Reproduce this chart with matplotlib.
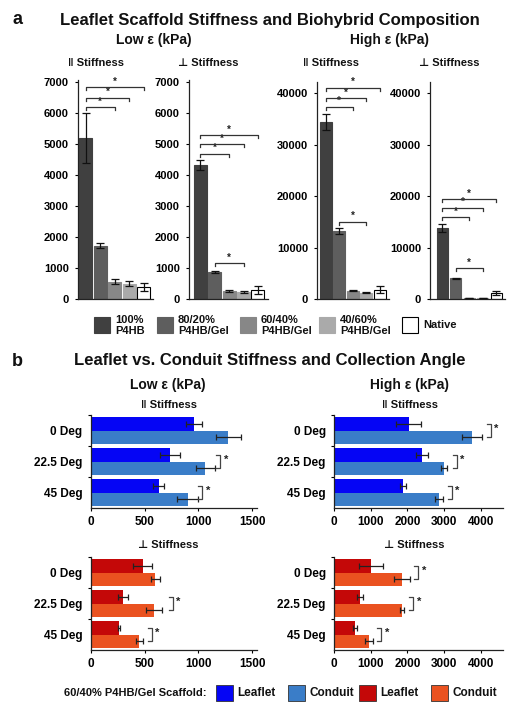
import matplotlib
matplotlib.use("Agg")
import matplotlib.pyplot as plt
from matplotlib.patches import Rectangle

plt.rcParams['font.family'] = ['Liberation Sans', 'DejaVu Sans']
plt.rcParams['font.weight'] = 'bold'

# ---------------- data ----------------
comp_labels = ["100%\nP4HB", "80/20%\nP4HB/Gel", "60/40%\nP4HB/Gel", "40/60%\nP4HB/Gel", "Native"]
comp_colors = ["#404040", "#5e5e5e", "#878787", "#aaaaaa", "#ffffff"]

low_par = [5200, 1720, 560, 490, 380]
low_par_err = [800, 80, 80, 80, 130]
low_perp = [4320, 870, 265, 215, 290]
low_perp_err = [160, 30, 30, 30, 120]
high_par = [34400, 13200, 1610, 1220, 1800]
high_par_err = [1500, 550, 150, 150, 700]
high_perp = [13850, 4050, 200, 200, 1150]
high_perp_err = [800, 100, 50, 50, 450]

# significance brackets: (bar_from, bar_to, height)
low_par_sig = [(0, 2, 6200), (0, 3, 6500), (0, 4, 6850)]
low_perp_sig = [(0, 2, 4700), (0, 3, 5000), (0, 4, 5300), (1, 3, 1160)]
high_par_sig = [(0, 2, 37300), (0, 3, 39000), (0, 4, 41000), (1, 3, 15000)]
high_perp_sig = [(0, 2, 15900), (0, 3, 17700), (0, 4, 19400), (1, 3, 6000)]

angles = ["0 Deg", "22.5 Deg", "45 Deg"]
b_low_par_leaf = [957, 739, 630]
b_low_par_leaf_err = [75, 93, 50]
b_low_par_cond = [1277, 1065, 900]
b_low_par_cond_err = [115, 90, 100]
b_high_par_leaf = [2030, 2390, 1870]
b_high_par_leaf_err = [330, 160, 80]
b_high_par_cond = [3750, 2990, 2860]
b_high_par_cond_err = [270, 80, 115]
b_low_perp_leaf = [483, 297, 263]
b_low_perp_leaf_err = [90, 45, 10]
b_low_perp_cond = [600, 588, 452]
b_low_perp_cond_err = [40, 78, 30]
b_high_perp_leaf = [1010, 710, 570]
b_high_perp_leaf_err = [320, 90, 45]
b_high_perp_cond = [1850, 1840, 950]
b_high_perp_cond_err = [220, 55, 105]

# significance brackets in b: (group index, x position)
b_low_par_sig = [(1, 1205), (2, 1035)]
b_high_par_sig = [(0, 4263), (1, 3338), (2, 3202)]
b_low_perp_sig = [(1, 762), (2, 567)]
b_high_perp_sig = [(0, 2295), (1, 2159), (2, 1279)]

a_ticks_low = [0, 1000, 2000, 3000, 4000, 5000, 6000, 7000]
a_ticks_high = [0, 10000, 20000, 30000, 40000]
b_ticks_low = [0, 500, 1000, 1500]
b_ticks_high = [0, 1000, 2000, 3000, 4000]

c_leaf_par = "#0505f5"
c_cond_par = "#3a7dc8"
c_leaf_perp = "#c40808"
c_cond_perp = "#ea5220"

# ---------------- layout ----------------
W, H = 512, 711
fig = plt.figure(figsize=(W / 100, H / 100), dpi=100)


def rect(x0, y0, x1, y1):
    return [x0 / W, 1 - y1 / H, (x1 - x0) / W, (y1 - y0) / H]


ov = fig.add_axes([0, 0, 1, 1])
ov.set_xlim(0, W)
ov.set_ylim(H, 0)
ov.axis('off')


def style_axes(ax):
    for s in ['top', 'right']:
        ax.spines[s].set_visible(False)
    for s in ['left', 'bottom']:
        ax.spines[s].set_linewidth(0.9)
        ax.spines[s].set_color('#222222')


def panel_a(r, vals, errs, sig, ylim, ticks, xlim, width):
    ax = fig.add_axes(rect(*r))
    style_axes(ax)
    x = list(range(len(vals)))
    ax.bar(x, vals, width=width, color=comp_colors, edgecolor=[c if c != "#ffffff" else "#000000" for c in comp_colors],
           linewidth=0.8, zorder=2)
    ax.errorbar(x, vals, yerr=errs, fmt='none', ecolor='#111111', elinewidth=0.9, capsize=3, capthick=0.9, zorder=3)
    ax.set_xlim(*xlim)
    ax.set_ylim(0, ylim)
    ax.set_xticks([])
    ax.set_yticks(ticks)
    ax.tick_params(axis='y', direction='out', length=2.5, width=0.8, pad=4, labelsize=8)
    for lab in ax.get_yticklabels():
        lab.set_fontweight('bold')
    tick = ylim * 3.0 / (r[3] - r[1])
    for a, b, h in sig:
        ax.plot([a, a, b, b], [h - tick, h, h, h - tick], color='#333333', lw=0.9, clip_on=False, zorder=4)
        ax.text((a + b) / 2, h + tick * 0.2, "*", ha='center', va='bottom', fontsize=7, color='#222222')
    return ax


panel_a((78, 80, 153, 299), low_par, low_par_err, low_par_sig, 7080, a_ticks_low, (-0.52, 4.63), 0.9)
panel_a((189, 80, 268, 299), low_perp, low_perp_err, low_perp_sig, 7080, a_ticks_low, (-0.8, 4.7), 0.9)
panel_a((317, 82, 389, 299), high_par, high_par_err, high_par_sig, 42140, a_ticks_high, (-0.63, 4.66), 0.88)
panel_a((430, 82, 505, 299), high_perp, high_perp_err, high_perp_sig, 42140, a_ticks_high, (-0.93, 4.67), 0.82)


def panel_b(r, leaf, leaf_err, cond, cond_err, sig, xmax, ticks, cl, cc):
    ax = fig.add_axes(rect(*r))
    style_axes(ax)
    pos = list(range(len(angles)))
    off = 0.21
    hgt = 0.42
    lp = [p - off for p in pos]
    cp = [p + off for p in pos]
    ax.barh(lp, leaf, height=hgt, color=cl, zorder=2)
    ax.barh(cp, cond, height=hgt, color=cc, zorder=2)
    ax.errorbar(leaf, lp, xerr=leaf_err, fmt='none', ecolor='#222222', elinewidth=0.9, capsize=2, capthick=0.9, zorder=3)
    ax.errorbar(cond, cp, xerr=cond_err, fmt='none', ecolor='#222222', elinewidth=0.9, capsize=2, capthick=0.9, zorder=3)
    ax.set_xlim(0, xmax)
    ax.set_ylim(2.5, -0.5)
    ax.set_yticks(pos)
    ax.set_yticklabels(angles)
    ax.set_yticks([-0.5, 0.5, 1.5], minor=True)
    ax.tick_params(axis='y', which='major', length=0, pad=6, labelsize=8.5)
    ax.tick_params(axis='y', which='minor', length=2.5, width=0.8, direction='out')
    ax.set_xticks(ticks)
    ax.tick_params(axis='x', direction='out', length=2.5, width=0.8, pad=3.5, labelsize=8.5)
    for lab in ax.get_yticklabels() + ax.get_xticklabels():
        lab.set_fontweight('bold')
    t = xmax * 4.0 / (r[2] - r[0])
    for g, bx in sig:
        ax.plot([bx - t, bx, bx, bx - t], [g - off, g - off, g + off, g + off], color='#444444', lw=0.9,
                clip_on=False, zorder=4)
        ax.text(bx + t * 0.9, g - 0.04, "*", ha='left', va='center', fontsize=8, color='#222222')
    return ax


panel_b((90.7, 415, 257, 508), b_low_par_leaf, b_low_par_leaf_err, b_low_par_cond, b_low_par_cond_err,
        b_low_par_sig, 1545, b_ticks_low, c_leaf_par, c_cond_par)
panel_b((334, 415, 503, 508), b_high_par_leaf, b_high_par_leaf_err, b_high_par_cond, b_high_par_cond_err,
        b_high_par_sig, 4600, b_ticks_high, c_leaf_par, c_cond_par)
panel_b((90.7, 557, 257, 650), b_low_perp_leaf, b_low_perp_leaf_err, b_low_perp_cond, b_low_perp_cond_err,
        b_low_perp_sig, 1545, b_ticks_low, c_leaf_perp, c_cond_perp)
panel_b((334, 557, 503, 650), b_high_perp_leaf, b_high_perp_leaf_err, b_high_perp_cond, b_high_perp_cond_err,
        b_high_perp_sig, 4600, b_ticks_high, c_leaf_perp, c_cond_perp)

# ---------------- texts ----------------
T = dict(ha='center', va='center', fontweight='bold', color='#111111')
ov.text(17.5, 19, "a", fontsize=13, **T)
ov.text(270, 20, "Leaflet Scaffold Stiffness and Biohybrid Composition", fontsize=12, **T)
ov.text(154, 40, "Low ε (kPa)", fontsize=10, **T)
ov.text(390, 40, "High ε (kPa)", fontsize=10, **T)
ov.text(96, 62.5, "‖ Stiffness", fontsize=8, **T)
ov.text(208, 62.5, "⊥ Stiffness", fontsize=8, **T)
ov.text(331, 62.5, "‖ Stiffness", fontsize=8, **T)
ov.text(449, 62.5, "⊥ Stiffness", fontsize=8, **T)

# legend a
leg_x = [94, 157, 240, 319, 402]
for xx, lab, col in zip(leg_x, comp_labels, comp_colors):
    ov.add_patch(Rectangle((xx, 317), 16, 16, facecolor=col,
                           edgecolor='#000000' if col == "#ffffff" else col, lw=0.8))
    ov.text(xx + 21, 325.5, lab, ha='left', va='center', fontsize=8, fontweight='bold',
            color='#111111', linespacing=1.1)

ov.text(17, 361, "b", fontsize=13, **T)
ov.text(270, 361, "Leaflet vs. Conduit Stiffness and Collection Angle", fontsize=12, **T)
ov.text(168, 385, "Low ε (kPa)", fontsize=10, **T)
ov.text(409.5, 385, "High ε (kPa)", fontsize=10, **T)
ov.text(169, 405, "‖ Stiffness", fontsize=8, **T)
ov.text(410, 405, "‖ Stiffness", fontsize=8, **T)
ov.text(168, 545, "⊥ Stiffness", fontsize=8, **T)
ov.text(414, 545, "⊥ Stiffness", fontsize=8, **T)

# legend b
ov.text(207, 692.5, "60/40% P4HB/Gel Scaffold:", ha='right', va='center', fontsize=8,
        fontweight='bold', color='#111111')
b_leg = [(216, c_leaf_par, "Leaflet"), (288, c_cond_par, "Conduit"),
         (359, c_leaf_perp, "Leaflet"), (431, c_cond_perp, "Conduit")]
for xx, col, lab in b_leg:
    ov.add_patch(Rectangle((xx, 684.5), 16.5, 16, facecolor=col, edgecolor='#333333', lw=0.6))
    ov.text(xx + 21.5, 692.5, lab, ha='left', va='center', fontsize=8.5, fontweight='bold', color='#111111')

fig.savefig("out.png", dpi=100)
